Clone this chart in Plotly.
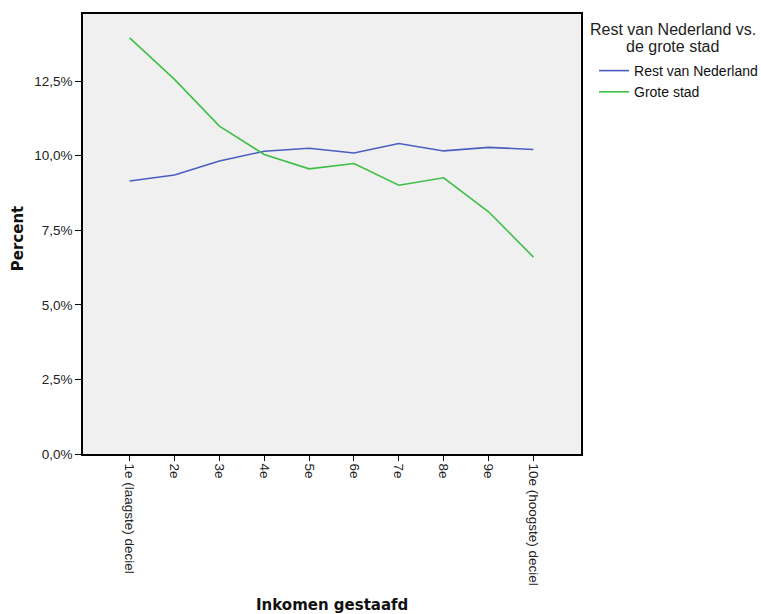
import plotly.graph_objects as go

categories = ["1e (laagste) deciel", "2e", "3e", "4e", "5e", "6e", "7e", "8e", "9e", "10e (hoogste) deciel"]
rest_nl = [9.15, 9.35, 9.82, 10.15, 10.25, 10.09, 10.41, 10.16, 10.28, 10.21]
grote_stad = [13.95, 12.56, 10.99, 10.04, 9.56, 9.74, 9.01, 9.26, 8.12, 6.60]
y_tickvals = [0, 2.5, 5.0, 7.5, 10.0, 12.5]
y_ticktext = ["0,0%", "2,5%", "5,0%", "7,5%", "10,0%", "12,5%"]
legend_title = ["Rest van Nederland vs.", "de grote stad"]

FONT = "Liberation Sans, Arial, sans-serif"
BOLD = "DejaVu Sans, sans-serif"
xs = list(range(len(categories)))

fig = go.Figure()
fig.add_trace(go.Scatter(x=xs, y=rest_nl, mode="lines", name="Rest van Nederland",
                         line=dict(color="#4a5ec2", width=1.6)))
fig.add_trace(go.Scatter(x=xs, y=grote_stad, mode="lines", name="Grote stad",
                         line=dict(color="#3ebf48", width=1.6)))

fig.update_layout(
    width=761, height=614,
    margin=dict(l=83, r=176, t=14, b=160, pad=0),
    paper_bgcolor="white", plot_bgcolor="#f0f0f0",
    font=dict(family=FONT, size=14, color="#222"),
    showlegend=True,
    legend=dict(xref="container", yref="container", x=0.7806, y=0.9104,
                xanchor="left", yanchor="top",
                bgcolor="rgba(0,0,0,0)", font=dict(size=14, color="#111"),
                itemwidth=30, tracegroupgap=0),
)
fig.update_xaxes(range=[-1.04, 10.05], tickmode="array", tickvals=xs, ticktext=categories,
                 tickangle=90, ticks="outside", ticklen=5, tickcolor="black",
                 showline=True, linecolor="black", linewidth=1.5, mirror=True,
                 showgrid=False, zeroline=False, tickfont=dict(size=13.5, color="#222"))
fig.update_yaxes(range=[0, 14.75], tickmode="array", tickvals=y_tickvals, ticktext=y_ticktext,
                 ticks="outside", ticklen=6, tickcolor="black",
                 showline=True, linecolor="black", linewidth=1.5, mirror=True,
                 showgrid=False, zeroline=False, tickfont=dict(size=13.5, color="#222"))

fig.add_annotation(text="<b>Percent</b>", xref="paper", yref="paper", x=-0.129, y=0.49,
                   textangle=-90, showarrow=False, font=dict(family=BOLD, size=15, color="#111"),
                   xanchor="center", yanchor="middle")
fig.add_annotation(text="<b>Inkomen gestaafd</b>", xref="paper", yref="paper", x=0.5, y=-0.343,
                   showarrow=False, font=dict(family=BOLD, size=15, color="#111"),
                   xanchor="center", yanchor="middle")
for line, ypos in zip(legend_title, [0.965, 0.926]):
    fig.add_annotation(text=line, xref="paper", yref="paper",
                       x=1.185, y=ypos, showarrow=False, align="center",
                       font=dict(size=16, color="#222"), xanchor="center", yanchor="middle")

fig.write_html("out.html", config={"displayModeBar": False},
               post_script="document.body.style.margin='0';")
